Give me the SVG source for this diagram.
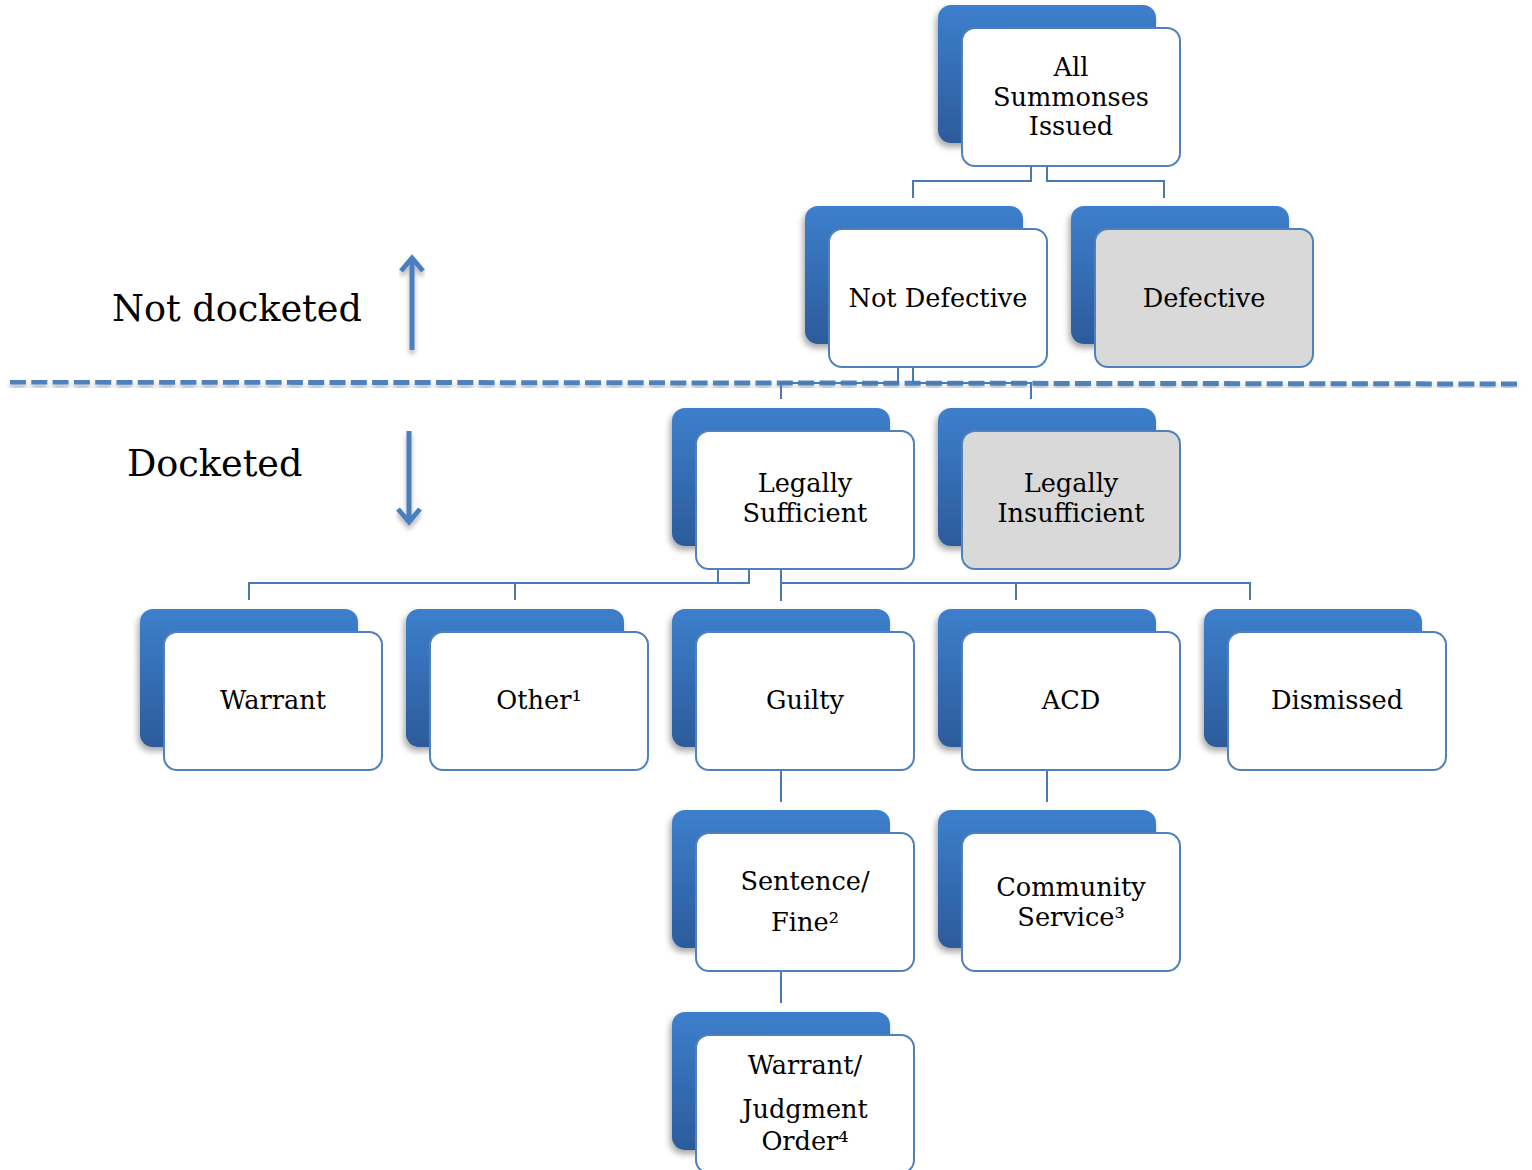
<svg xmlns="http://www.w3.org/2000/svg" width="1532" height="1170" viewBox="0 0 1532 1170">
<defs>
<linearGradient id="bg" x1="0" y1="0" x2="0" y2="1">
<stop offset="0" stop-color="#3d7fcc"/>
<stop offset="1" stop-color="#2c5b9b"/>
</linearGradient>
<filter id="sh" x="-20%" y="-20%" width="140%" height="150%">
<feDropShadow dx="-2" dy="4" stdDeviation="3" flood-color="#000" flood-opacity="0.35"/>
</filter>
<filter id="lsh" x="-5%" y="-100%" width="110%" height="400%">
<feDropShadow dx="0" dy="4" stdDeviation="2.5" flood-color="#000" flood-opacity="0.3"/>
</filter>
</defs>
<style>
.back{fill:url(#bg);filter:url(#sh)}
.front{fill:#fff;stroke:#4f81bd;stroke-width:2}
.grey{fill:#d9d9d9}
.t{font-family:"DejaVu Serif","Liberation Serif",serif;font-size:25.6px;fill:#000;text-anchor:middle}
.lbl{font-family:"DejaVu Serif","Liberation Serif",serif;font-size:36.6px;fill:#000}
.c{fill:none;stroke:#4a7ab5;stroke-width:2}
.arr{fill:none;stroke:#4a7fc1;stroke-width:5;stroke-linecap:butt;stroke-linejoin:miter;filter:url(#lsh)}
</style>
<rect width="1532" height="1170" fill="#fff"/>

<g id="divider">
<line x1="10" y1="382" x2="1519" y2="384" stroke="#4f81bd" stroke-width="5" stroke-dasharray="16 5.3" filter="url(#lsh)"/>
</g>

<g id="connectors">
<path class="c" d="M1031,166 V181 H913 V198"/>
<path class="c" d="M1047,166 V181 H1164 V198"/>
<path class="c" d="M898,367 V383 H781 V399"/>
<path class="c" d="M913,367 V383 H1031 V399"/>
<path class="c" d="M718,569 V583 H249 V600"/>
<path class="c" d="M749,569 V583 H515 V600"/>
<path class="c" d="M781,569 V601"/>
<path class="c" d="M781,583 H1016 V600"/>
<path class="c" d="M1016,583 H1250 V600"/>
<path class="c" d="M781,770 V802"/>
<path class="c" d="M1047,770 V802"/>
<path class="c" d="M781,971 V1003"/>
</g>

<g id="label-not-docketed">
<text class="lbl" x="112" y="321">Not docketed</text>
<path class="arr" d="M412,350 V258 M401,271 L412,258 L423,271"/>
</g>
<g id="label-docketed">
<text class="lbl" x="127" y="476">Docketed</text>
<path class="arr" d="M409,431 V522 M398,509 L409,522 L420,509"/>
</g>

<g id="n-all">
<rect class="back" x="938" y="5" width="218" height="138" rx="13"/>
<rect class="front" x="962" y="28" width="218" height="138" rx="13"/>
<text class="t" x="1071" y="76">All</text>
<text class="t" x="1071" y="106">Summonses</text>
<text class="t" x="1071" y="135">Issued</text>
</g>

<g id="n-notdefective">
<rect class="back" x="805" y="206" width="218" height="138" rx="13"/>
<rect class="front" x="829" y="229" width="218" height="138" rx="13"/>
<text class="t" x="938" y="307">Not Defective</text>
</g>

<g id="n-defective">
<rect class="back" x="1071" y="206" width="218" height="138" rx="13"/>
<rect class="front grey" x="1095" y="229" width="218" height="138" rx="13"/>
<text class="t" x="1204" y="307">Defective</text>
</g>

<g id="n-sufficient">
<rect class="back" x="672" y="408" width="218" height="138" rx="13"/>
<rect class="front" x="696" y="431" width="218" height="138" rx="13"/>
<text class="t" x="805" y="492">Legally</text>
<text class="t" x="805" y="522">Sufficient</text>
</g>

<g id="n-insufficient">
<rect class="back" x="938" y="408" width="218" height="138" rx="13"/>
<rect class="front grey" x="962" y="431" width="218" height="138" rx="13"/>
<text class="t" x="1071" y="492">Legally</text>
<text class="t" x="1071" y="522">Insufficient</text>
</g>

<g id="n-warrant">
<rect class="back" x="140" y="609" width="218" height="138" rx="13"/>
<rect class="front" x="164" y="632" width="218" height="138" rx="13"/>
<text class="t" x="273" y="709">Warrant</text>
</g>

<g id="n-other">
<rect class="back" x="406" y="609" width="218" height="138" rx="13"/>
<rect class="front" x="430" y="632" width="218" height="138" rx="13"/>
<text class="t" x="539" y="709">Other¹</text>
</g>

<g id="n-guilty">
<rect class="back" x="672" y="609" width="218" height="138" rx="13"/>
<rect class="front" x="696" y="632" width="218" height="138" rx="13"/>
<text class="t" x="805" y="709">Guilty</text>
</g>

<g id="n-acd">
<rect class="back" x="938" y="609" width="218" height="138" rx="13"/>
<rect class="front" x="962" y="632" width="218" height="138" rx="13"/>
<text class="t" x="1071" y="709">ACD</text>
</g>

<g id="n-dismissed">
<rect class="back" x="1204" y="609" width="218" height="138" rx="13"/>
<rect class="front" x="1228" y="632" width="218" height="138" rx="13"/>
<text class="t" x="1337" y="709">Dismissed</text>
</g>

<g id="n-sentence">
<rect class="back" x="672" y="810" width="218" height="138" rx="13"/>
<rect class="front" x="696" y="833" width="218" height="138" rx="13"/>
<text class="t" x="805" y="890">Sentence/</text>
<text class="t" x="805" y="931">Fine²</text>
</g>

<g id="n-community">
<rect class="back" x="938" y="810" width="218" height="138" rx="13"/>
<rect class="front" x="962" y="833" width="218" height="138" rx="13"/>
<text class="t" x="1071" y="896">Community</text>
<text class="t" x="1071" y="926">Service³</text>
</g>

<g id="n-judgment">
<rect class="back" x="672" y="1012" width="218" height="138" rx="13"/>
<rect class="front" x="696" y="1035" width="218" height="138" rx="13"/>
<text class="t" x="805" y="1074">Warrant/</text>
<text class="t" x="805" y="1118">Judgment</text>
<text class="t" x="805" y="1150">Order⁴</text>
</g>
</svg>
